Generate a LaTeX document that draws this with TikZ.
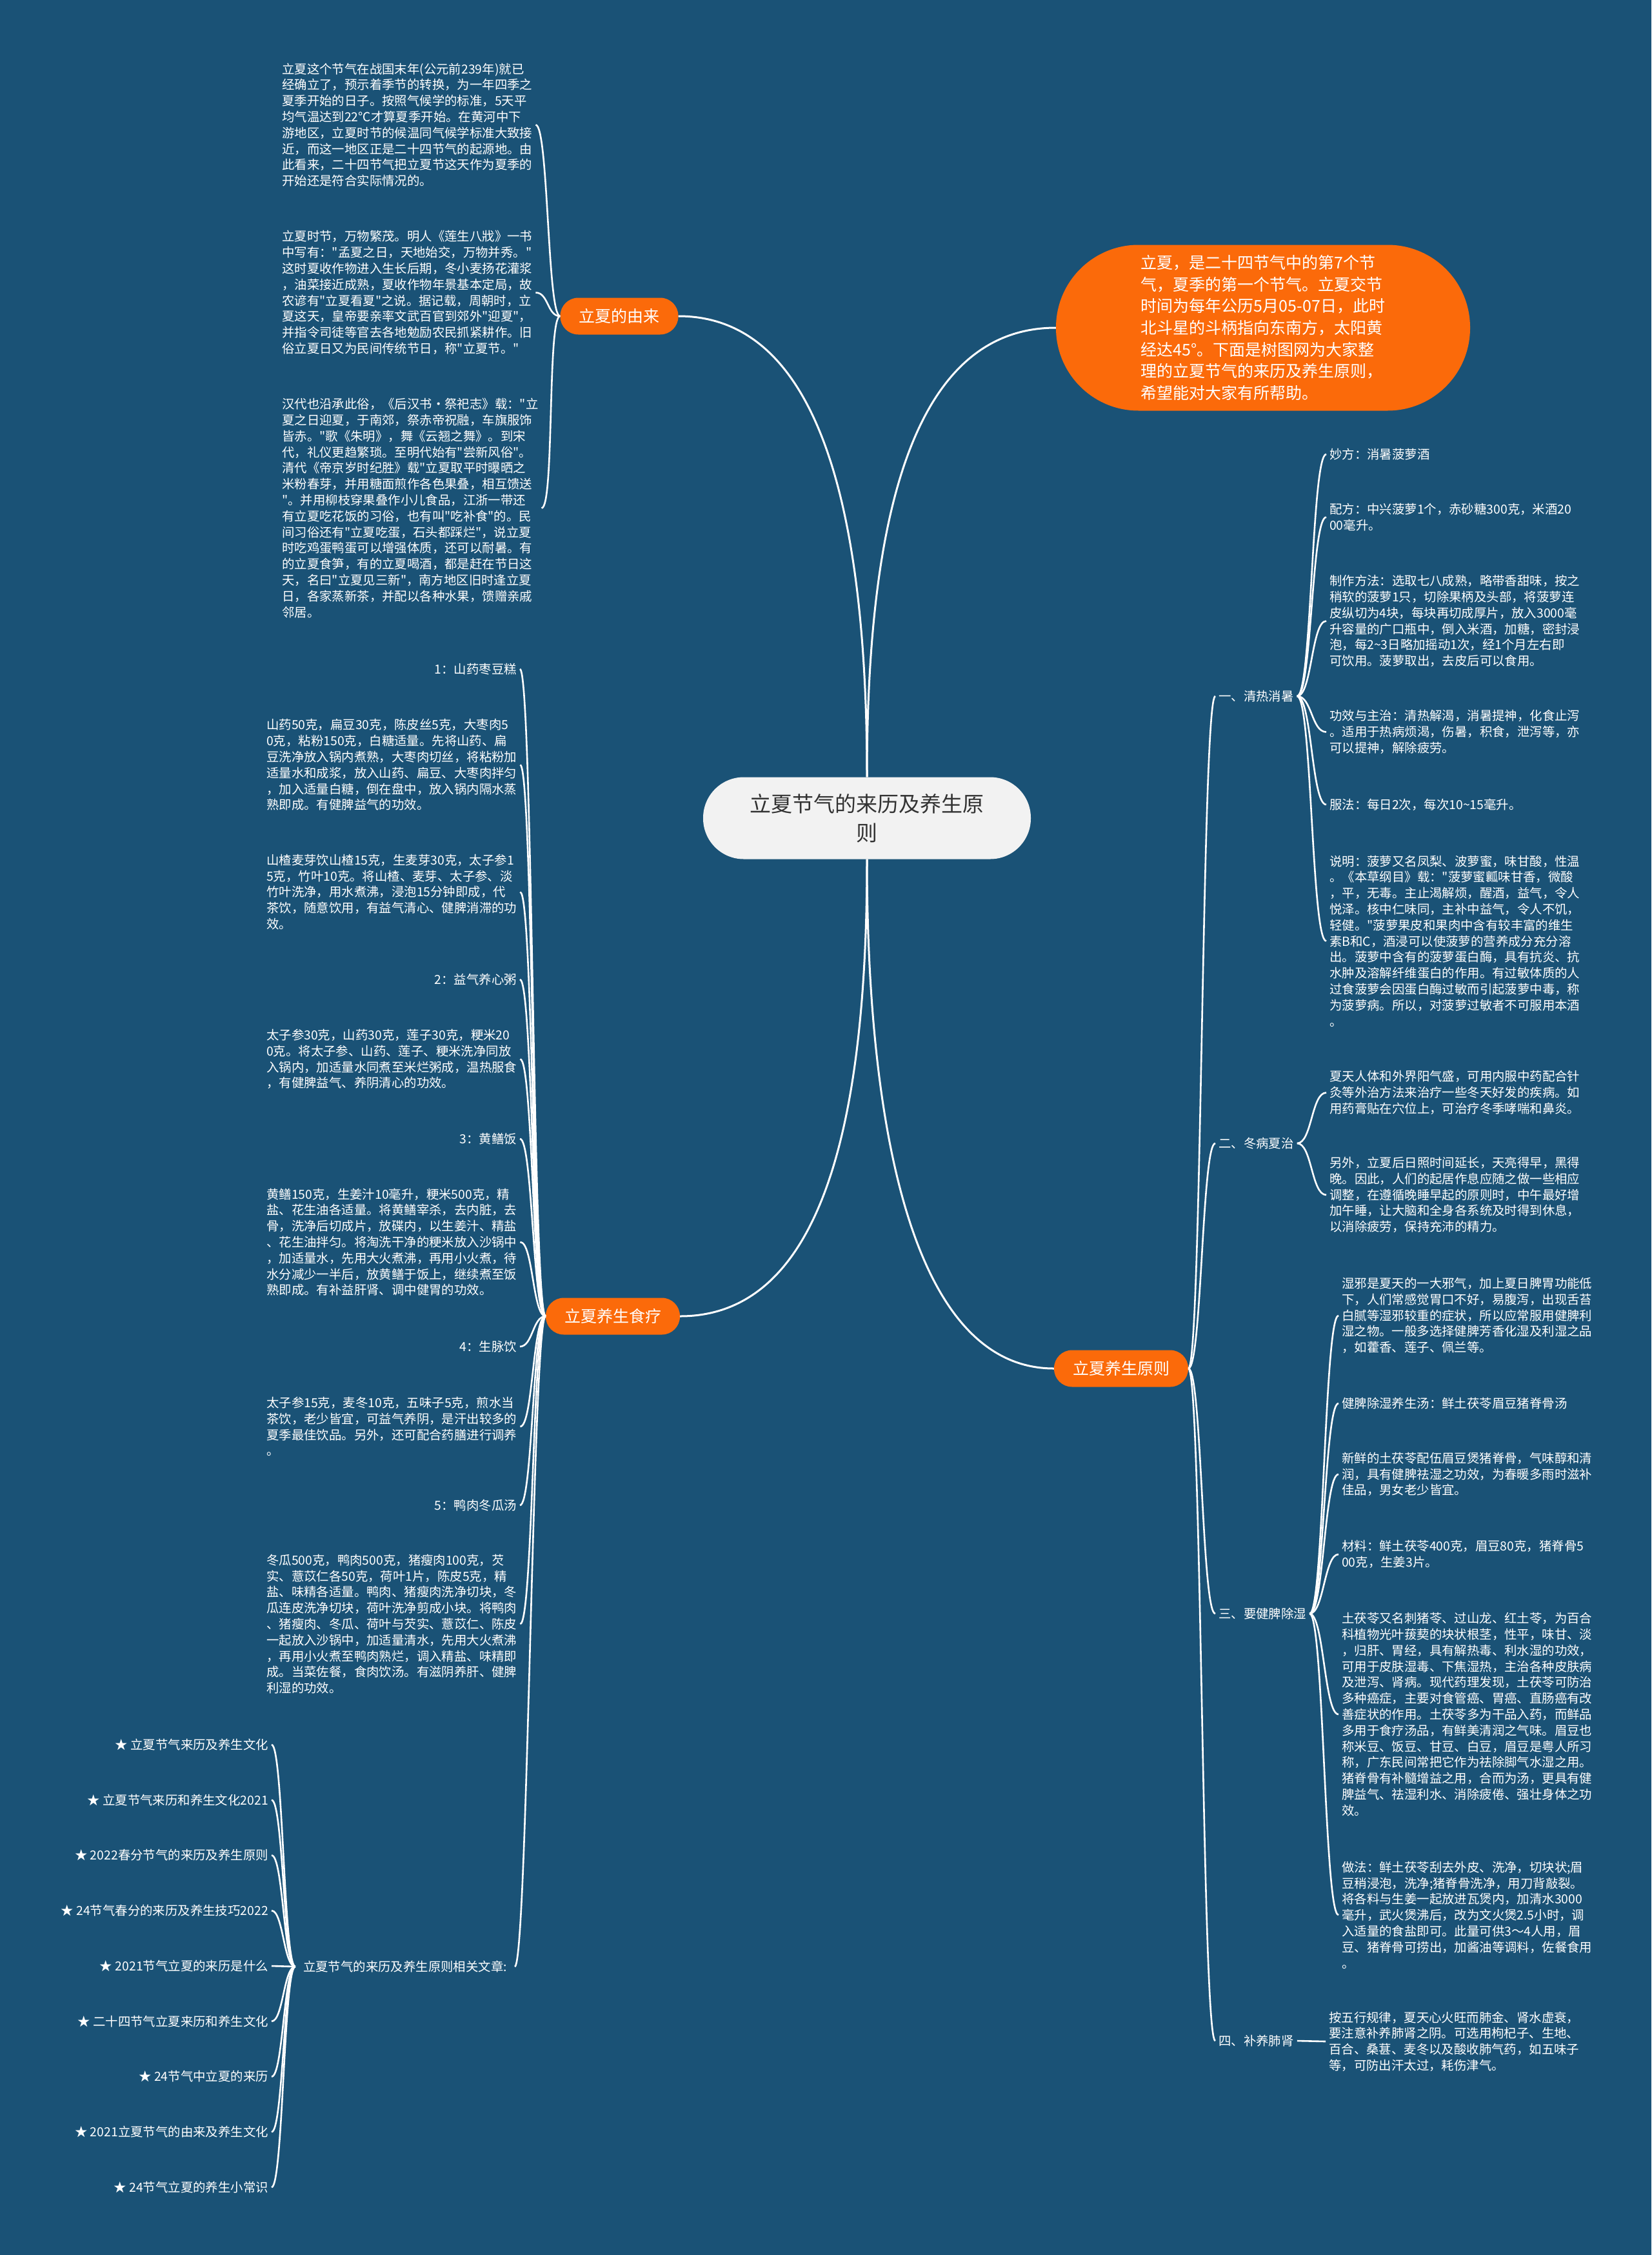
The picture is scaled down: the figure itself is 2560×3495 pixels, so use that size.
\documentclass[tikz,border=0pt]{standalone}
\usepackage{fontspec}
\setmainfont{Noto Sans CJK SC}[Ligatures=TeXOff]
\definecolor{bgblue}{HTML}{1A5276}
\definecolor{maporange}{HTML}{FB6A0A}
\definecolor{hubgray}{HTML}{F2F2F2}
\definecolor{hubtext}{HTML}{333333}
\tikzset{
  body/.style={text=white, font=\fontsize{19.4}{24.8}\selectfont, align=left, inner xsep=5pt, inner ysep=0pt},
  pill/.style={fill=maporange, text=white, font=\fontsize{25}{30}\selectfont, rounded corners=28pt, minimum height=57pt, inner xsep=29pt, inner ysep=0pt},
  hub/.style={fill=hubgray, text=hubtext, font=\fontsize{33}{45}\selectfont, align=center, rounded corners=63pt, minimum width=508pt, minimum height=127pt},
  intro/.style={fill=maporange, text=white, font=\fontsize{25}{33.7}\selectfont, align=left, rounded corners=128pt, minimum width=642pt, minimum height=257pt},
  link/.style={draw=white, line width=2.6pt},
  mainlink/.style={draw=white, line width=3pt}
}
\begin{document}
\begin{tikzpicture}[x=1pt, y=-1pt]
\fill[bgblue] (0,0) rectangle (2560,3495);
\useasboundingbox (0,0) rectangle (2560,3495);

\node[hub] (hub) at (1344,1268) {立夏节气的来历及养生原\\则};
\node[intro] (intro) at (1958,508) {立夏，是二十四节气中的第7个节\\
气，夏季的第一个节气。立夏交节\\
时间为每年公历5月05-07日，此时\\
北斗星的斗柄指向东南方，太阳黄\\
经达45°。下面是树图网为大家整\\
理的立夏节气的来历及养生原则，\\
希望能对大家有所帮助。};
\node[pill] (origin) at (960,490) {立夏的由来};
\node[pill] (food) at (950,2040) {立夏养生食疗};
\node[pill] (rule) at (1738,2121) {立夏养生原则};

\draw[mainlink] (hub.north) .. controls +(0,-380) and +(230,0) .. (origin.east);
\draw[mainlink] (hub.north) .. controls +(0,-380) and +(-230,0) .. (intro.west);
\draw[mainlink] (hub.south) .. controls +(0,380) and +(230,0) .. (food.east);
\draw[mainlink] (hub.south) .. controls +(0,380) and +(-230,0) .. (rule.west);

% 立夏的由来
\node[body, anchor=west] (o1) at (432,193.5) {立夏这个节气在战国末年(公元前239年)就已\\
经确立了，预示着季节的转换，为一年四季之\\
夏季开始的日子。按照气候学的标准，5天平\\
均气温达到22℃才算夏季开始。在黄河中下\\
游地区，立夏时节的候温同气候学标准大致接\\
近，而这一地区正是二十四节气的起源地。由\\
此看来，二十四节气把立夏节这天作为夏季的\\
开始还是符合实际情况的。};
\node[body, anchor=west] (o2) at (432,453.5) {立夏时节，万物繁茂。明人《莲生八戕》一书\\
中写有："孟夏之日，天地始交，万物并秀。"\\
这时夏收作物进入生长后期，冬小麦扬花灌浆\\
，油菜接近成熟，夏收作物年景基本定局，故\\
农谚有"立夏看夏"之说。据记载，周朝时，立\\
夏这天，皇帝要亲率文武百官到郊外"迎夏"，\\
并指令司徒等官去各地勉励农民抓紧耕作。旧\\
俗立夏日又为民间传统节日，称"立夏节。"};
\node[body, anchor=west] (o3) at (432,787.5) {汉代也沿承此俗，《后汉书·祭祀志》载："立\\
夏之日迎夏，于南郊，祭赤帝祝融，车旗服饰\\
皆赤。"歌《朱明》，舞《云翘之舞》。到宋\\
代，礼仪更趋繁琐。至明代始有"尝新风俗"。\\
清代《帝京岁时纪胜》载"立夏取平时曝晒之\\
米粉春芽，并用糖面煎作各色果叠，相互馈送\\
"。并用柳枝穿果叠作小儿食品，江浙一带还\\
有立夏吃花饭的习俗，也有叫"吃补食"的。民\\
间习俗还有"立夏吃蛋，石头都踩烂"，说立夏\\
时吃鸡蛋鸭蛋可以增强体质，还可以耐暑。有\\
的立夏食笋，有的立夏喝酒，都是赶在节日这\\
天，名曰"立夏见三新"，南方地区旧时逢立夏\\
日，各家蒸新茶，并配以各种水果，馈赠亲戚\\
邻居。};
\foreach \n in {o1,o2,o3}
  \draw[link] (origin.west) .. controls +(-20,0) and +(20,0) .. (\n.east);

% 立夏养生食疗
\node[body, anchor=east] (f1) at (806,1037) {1：山药枣豆糕};
\node[body, anchor=west] (f2) at (408,1185.5) {山药50克，扁豆30克，陈皮丝5克，大枣肉5\\
0克，粘粉150克，白糖适量。先将山药、扁\\
豆洗净放入锅内煮熟，大枣肉切丝，将粘粉加\\
适量水和成浆，放入山药、扁豆、大枣肉拌匀\\
，加入适量白糖，倒在盘中，放入锅内隔水蒸\\
熟即成。有健脾益气的功效。};
\node[body, anchor=west] (f3) at (408,1382.5) {山楂麦芽饮山楂15克，生麦芽30克，太子参1\\
5克，竹叶10克。将山楂、麦芽、太子参、淡\\
竹叶洗净，用水煮沸，浸泡15分钟即成，代\\
茶饮，随意饮用，有益气清心、健脾消滞的功\\
效。};
\node[body, anchor=east] (f4) at (806,1518) {2：益气养心粥};
\node[body, anchor=west] (f5) at (408,1641.5) {太子参30克，山药30克，莲子30克，粳米20\\
0克。将太子参、山药、莲子、粳米洗净同放\\
入锅内，加适量水同煮至米烂粥成，温热服食\\
，有健脾益气、养阴清心的功效。};
\node[body, anchor=east] (f6) at (806,1765) {3：黄鳝饭};
\node[body, anchor=west] (f7) at (408,1925) {黄鳝150克，生姜汁10毫升，粳米500克，精\\
盐、花生油各适量。将黄鳝宰杀，去内脏，去\\
骨，洗净后切成片，放碟内，以生姜汁、精盐\\
、花生油拌匀。将淘洗干净的粳米放入沙锅中\\
，加适量水，先用大火煮沸，再用小火煮，待\\
水分减少一半后，放黄鳝于饭上，继续煮至饭\\
熟即成。有补益肝肾、调中健胃的功效。};
\node[body, anchor=east] (f8) at (806,2087) {4：生脉饮};
\node[body, anchor=west] (f9) at (408,2211) {太子参15克，麦冬10克，五味子5克，煎水当\\
茶饮，老少皆宜，可益气养阴，是汗出较多的\\
夏季最佳饮品。另外，还可配合药膳进行调养\\
。};
\node[body, anchor=east] (f10) at (806,2333) {5：鸭肉冬瓜汤};
\node[body, anchor=west] (f11) at (408,2517) {冬瓜500克，鸭肉500克，猪瘦肉100克，芡\\
实、薏苡仁各50克，荷叶1片，陈皮5克，精\\
盐、味精各适量。鸭肉、猪瘦肉洗净切块，冬\\
瓜连皮洗净切块，荷叶洗净剪成小块。将鸭肉\\
、猪瘦肉、冬瓜、荷叶与芡实、薏苡仁、陈皮\\
一起放入沙锅中，加适量清水，先用大火煮沸\\
，再用小火煮至鸭肉熟烂，调入精盐、味精即\\
成。当菜佐餐，食肉饮汤。有滋阴养肝、健脾\\
利湿的功效。};
\node[body, anchor=east, inner xsep=12pt] (more) at (798,3048) {立夏节气的来历及养生原则相关文章:};
\foreach \n in {f1,f2,f3,f4,f5,f6,f7,f8,f9,f10,f11,more}
  \draw[link] (food.west) .. controls +(-20,0) and +(20,0) .. (\n.east);

\foreach \t [count=\i] in {立夏节气来历及养生文化,立夏节气来历和养生文化2021,2022春分节气的来历及养生原则,24节气春分的来历及养生技巧2022,2021节气立夏的来历是什么,二十四节气立夏来历和养生文化,24节气中立夏的来历,2021立夏节气的由来及养生文化,24节气立夏的养生小常识} {
  \node[body, anchor=east] (s\i) at (421,{2618.25+85.75*\i}) {★ \t};
  \draw[link] (more.west) .. controls +(-18,0) and +(18,0) .. (s\i.east);
}

% 立夏养生原则
\node[body, anchor=west] (c1) at (1884,1079) {一、清热消暑};
\node[body, anchor=west] (c2) at (1884,1772) {二、冬病夏治};
\node[body, anchor=west] (c3) at (1884,2501) {三、要健脾除湿};
\node[body, anchor=west] (c4) at (1884,3163) {四、补养肺肾};
\foreach \n in {c1,c2,c3,c4}
  \draw[link] (rule.east) .. controls +(21,0) and +(-21,0) .. (\n.west);

\node[body, anchor=west] (a1) at (2056,704) {妙方：消暑菠萝酒};
\node[body, anchor=west] (a2) at (2056,801.5) {配方：中兴菠萝1个，赤砂糖300克，米酒20\\
00毫升。};
\node[body, anchor=west] (a3) at (2056,962.5) {制作方法：选取七八成熟，略带香甜味，按之\\
稍软的菠萝1只，切除果柄及头部，将菠萝连\\
皮纵切为4块，每块再切成厚片，放入3000毫\\
升容量的广口瓶中，倒入米酒，加糖，密封浸\\
泡，每2\textasciitilde 3日略加摇动1次，经1个月左右即\\
可饮用。菠萝取出，去皮后可以食用。};
\node[body, anchor=west] (a4) at (2056,1134.5) {功效与主治：清热解渴，消暑提神，化食止泻\\
。适用于热病烦渴，伤暑，积食，泄泻等，亦\\
可以提神，解除疲劳。};
\node[body, anchor=west] (a5) at (2056,1247) {服法：每日2次，每次10\textasciitilde 15毫升。};
\node[body, anchor=west] (a6) at (2056,1458.5) {说明：菠萝又名凤梨、波萝蜜，味甘酸，性温\\
。《本草纲目》载："菠萝蜜瓤味甘香，微酸\\
，平，无毒。主止渴解烦，醒酒，益气，令人\\
悦泽。核中仁味同，主补中益气，令人不饥，\\
轻健。"菠萝果皮和果肉中含有较丰富的维生\\
素B和C，酒浸可以使菠萝的营养成分充分溶\\
出。菠萝中含有的菠萝蛋白酶，具有抗炎、抗\\
水肿及溶解纤维蛋白的作用。有过敏体质的人\\
过食菠萝会因蛋白酶过敏而引起菠萝中毒，称\\
为菠萝病。所以，对菠萝过敏者不可服用本酒\\
。};
\foreach \n in {a1,a2,a3,a4,a5,a6}
  \draw[link] (c1.east) .. controls +(23,0) and +(-23,0) .. (\n.west);

\node[body, anchor=west] (b1) at (2056,1693.5) {夏天人体和外界阳气盛，可用内服中药配合针\\
灸等外治方法来治疗一些冬天好发的疾病。如\\
用药膏贴在穴位上，可治疗冬季哮喘和鼻炎。};
\node[body, anchor=west] (b2) at (2056,1852) {另外，立夏后日照时间延长，天亮得早，黑得\\
晚。因此，人们的起居作息应随之做一些相应\\
调整，在遵循晚睡早起的原则时，中午最好增\\
加午睡，让大脑和全身各系统及时得到休息，\\
以消除疲劳，保持充沛的精力。};
\foreach \n in {b1,b2}
  \draw[link] (c2.east) .. controls +(23,0) and +(-23,0) .. (\n.west);

\node[body, anchor=west] (d1) at (2075,2039) {湿邪是夏天的一大邪气，加上夏日脾胃功能低\\
下，人们常感觉胃口不好，易腹泻，出现舌苔\\
白腻等湿邪较重的症状，所以应常服用健脾利\\
湿之物。一般多选择健脾芳香化湿及利湿之品\\
，如藿香、莲子、佩兰等。};
\node[body, anchor=west] (d2) at (2075,2175) {健脾除湿养生汤：鲜土茯苓眉豆猪脊骨汤};
\node[body, anchor=west] (d3) at (2075,2285) {新鲜的土茯苓配伍眉豆煲猪脊骨，气味醇和清\\
润，具有健脾祛湿之功效，为春暖多雨时滋补\\
佳品，男女老少皆宜。};
\node[body, anchor=west] (d4) at (2075,2409) {材料：鲜土茯苓400克，眉豆80克，猪脊骨5\\
00克，生姜3片。};
\node[body, anchor=west] (d5) at (2075,2657) {土茯苓又名刺猪苓、过山龙、红土苓，为百合\\
科植物光叶菝葜的块状根茎，性平，味甘、淡\\
，归肝、胃经，具有解热毒、利水湿的功效，\\
可用于皮肤湿毒、下焦湿热，主治各种皮肤病\\
及泄泻、肾病。现代药理发现，土茯苓可防治\\
多种癌症，主要对食管癌、胃癌、直肠癌有改\\
善症状的作用。土茯苓多为干品入药，而鲜品\\
多用于食疗汤品，有鲜美清润之气味。眉豆也\\
称米豆、饭豆、甘豆、白豆，眉豆是粤人所习\\
称，广东民间常把它作为祛除脚气水湿之用。\\
猪脊骨有补髓增益之用，合而为汤，更具有健\\
脾益气、祛湿利水、消除疲倦、强壮身体之功\\
效。};
\node[body, anchor=west] (d6) at (2075,2968) {做法：鲜土茯苓刮去外皮、洗净，切块状;眉\\
豆稍浸泡，洗净;猪脊骨洗净，用刀背敲裂。\\
将各料与生姜一起放进瓦煲内，加清水3000\\
毫升，武火煲沸后，改为文火煲2.5小时，调\\
入适量的食盐即可。此量可供3～4人用，眉\\
豆、猪脊骨可捞出，加酱油等调料，佐餐食用\\
。};
\foreach \n in {d1,d2,d3,d4,d5,d6}
  \draw[link] (c3.east) .. controls +(22,0) and +(-22,0) .. (\n.west);

\node[body, anchor=west] (e1) at (2055,3164) {按五行规律，夏天心火旺而肺金、肾水虚衰，\\
要注意补养肺肾之阴。可选用枸杞子、生地、\\
百合、桑葚、麦冬以及酸收肺气药，如五味子\\
等，可防出汗太过，耗伤津气。};
\draw[link] (c4.east) -- (e1.west);
\end{tikzpicture}
\end{document}
